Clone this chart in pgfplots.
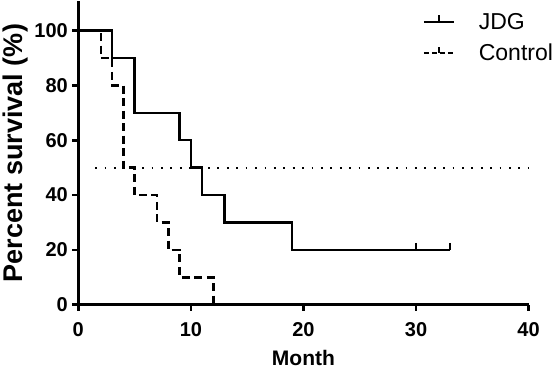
\documentclass[border=0pt]{standalone}
\usepackage{fontspec}
\setmainfont{Liberation Sans}
\usepackage{pgfplots}
\pgfplotsset{compat=1.18}
\begin{document}
\begin{tikzpicture}
\begin{axis}[
  scale only axis,
  width=450pt, height=303pt,
  xmin=0, xmax=40, ymin=0, ymax=110.6,
  axis x line*=bottom, axis y line*=left,
  axis line style={line width=3pt, -},
  xtick={0,10,20,30,40},
  ytick={0,20,40,60,80,100},
  tick align=outside,
  major tick length=6pt,
  tick style={line width=2.6pt, black},
  /pgf/number format/assume math mode=true,
  tick label style={font=\fontsize{20}{20}\selectfont\bfseries},
  xticklabel style={yshift=-8pt},
  yticklabel style={xshift=-1pt},
  xlabel={Month},
  ylabel={Percent survival (\%)},
  xlabel style={font=\fontsize{21}{21}\selectfont\bfseries, yshift=-7pt},
  ylabel style={font=\fontsize{27}{27}\selectfont\bfseries, yshift=-1pt},
  legend style={draw=none, fill=none, inner sep=0pt,
    at={(rel axis cs:0.765,0.962)}, anchor=north west,
    font=\fontsize{23}{23}\selectfont, row sep=13pt, column sep=24pt,
    nodes={inner sep=0pt}},
  legend cell align=left,
  clip=false,
]
\addplot[line width=2.5pt, black, const plot, mark=none,
  legend image code/.code={\draw[line width=1.8pt] (0pt,0pt) -- (30pt,0pt);
     \draw[line width=1.8pt] (15pt,0pt) -- (15pt,7pt);}]
  coordinates {(0,100)(3,90)(5,70)(9,60)(10,50)(11,40)(13,30)(19,20)(33,20)};
\addlegendentry{JDG}
\addplot[line width=2.5pt, black, const plot, mark=none, dash pattern=on 8pt off 4.5pt,
  legend image code/.code={\draw[line width=1.8pt, dash pattern=on 5pt off 3pt] (0pt,0pt) -- (30pt,0pt);
     \draw[line width=1.8pt] (15pt,0pt) -- (15pt,6pt);}]
  coordinates {(0,100)(2,90)(3,80)(4,50)(5,40)(7,30)(8,20)(9,10)(12,0)};
\addlegendentry{Control}
\addplot[line width=2pt, black, only marks, mark=|, mark size=3.5pt,
  mark options={yshift=3.5pt}, forget plot]
  coordinates {(30,20)(33,20)};
\addplot[line width=1.8pt, black, dash pattern=on 1.8pt off 7.6pt, forget plot]
  coordinates {(1.5,50)(40,50)};
\end{axis}
\end{tikzpicture}
\end{document}
